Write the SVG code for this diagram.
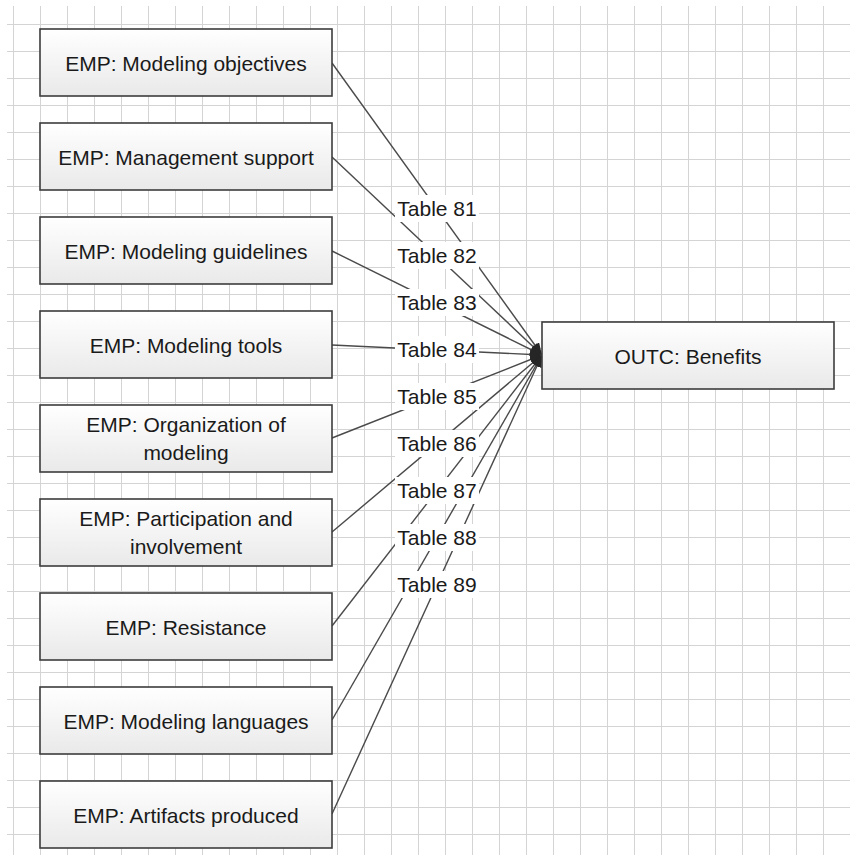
<svg xmlns="http://www.w3.org/2000/svg" width="850" height="855" viewBox="0 0 850 855">
  <defs>
    <linearGradient id="boxFill" x1="0" y1="0" x2="0" y2="1">
      <stop offset="0" stop-color="#ffffff"/>
      <stop offset="1" stop-color="#e9e9e9"/>
    </linearGradient>
    <pattern id="grid" x="13" y="24" width="27" height="27" patternUnits="userSpaceOnUse">
      <path d="M0 0V27M0 0H27" fill="none" stroke="#d4d4d4" stroke-width="2"/>
    </pattern>
    <marker id="arrow" viewBox="0 0 12 10" refX="12" refY="5" markerWidth="12" markerHeight="10" markerUnits="userSpaceOnUse" orient="auto">
      <path d="M0 0L12 5L0 10Z" fill="#262626"/>
    </marker>
    <clipPath id="gridArea">
      <rect x="7" y="6" width="843" height="849"/>
    </clipPath>
  </defs>
  <style>
    .box { fill: url(#boxFill); stroke: #3c3c3c; stroke-width: 1.6; }
    .txt { font-family: "Liberation Sans", Arial, sans-serif; font-size: 21px; fill: #1a1a1a; text-anchor: middle; dominant-baseline: central; }
    .edge { stroke: #4a4a4a; stroke-width: 1.4; fill: none; marker-end: url(#arrow); }
    .lblbg { fill: #ffffff; }
  </style>

  <!-- background grid -->
  <rect width="850" height="855" fill="#ffffff"/>
  <rect x="0" y="0" width="850" height="855" fill="url(#grid)" clip-path="url(#gridArea)"/>

  <!-- connectors with their labels -->
  <g id="connectors">
    <line class="edge" x1="332" y1="63" x2="542" y2="355"/>
    <line class="edge" x1="332" y1="157" x2="542" y2="355"/>
    <line class="edge" x1="332" y1="251" x2="542" y2="355"/>
    <line class="edge" x1="332" y1="345" x2="542" y2="355"/>
    <line class="edge" x1="332" y1="438" x2="542" y2="355"/>
    <line class="edge" x1="332" y1="532" x2="542" y2="355"/>
    <line class="edge" x1="332" y1="626" x2="542" y2="355"/>
    <line class="edge" x1="332" y1="720" x2="542" y2="355"/>
    <line class="edge" x1="332" y1="814" x2="542" y2="355"/>
    <g id="labels">
      <rect class="lblbg" x="395" y="195" width="84" height="27"/>
      <text class="txt" x="437" y="208">Table 81</text>
      <rect class="lblbg" x="395" y="242" width="84" height="27"/>
      <text class="txt" x="437" y="255">Table 82</text>
      <rect class="lblbg" x="395" y="289" width="84" height="27"/>
      <text class="txt" x="437" y="302">Table 83</text>
      <rect class="lblbg" x="395" y="336" width="84" height="27"/>
      <text class="txt" x="437" y="349">Table 84</text>
      <rect class="lblbg" x="395" y="383" width="84" height="27"/>
      <text class="txt" x="437" y="396">Table 85</text>
      <rect class="lblbg" x="395" y="430" width="84" height="27"/>
      <text class="txt" x="437" y="443">Table 86</text>
      <rect class="lblbg" x="395" y="477" width="84" height="27"/>
      <text class="txt" x="437" y="490">Table 87</text>
      <rect class="lblbg" x="395" y="524" width="84" height="27"/>
      <text class="txt" x="437" y="537">Table 88</text>
      <rect class="lblbg" x="395" y="571" width="84" height="27"/>
      <text class="txt" x="437" y="584">Table 89</text>
    </g>
  </g>

  <!-- nodes -->
  <g id="emp-objectives">
    <rect class="box" x="40" y="29" width="292" height="67"/>
    <text class="txt" x="186" y="63">EMP: Modeling objectives</text>
  </g>
  <g id="emp-management">
    <rect class="box" x="40" y="123" width="292" height="67"/>
    <text class="txt" x="186" y="157">EMP: Management support</text>
  </g>
  <g id="emp-guidelines">
    <rect class="box" x="40" y="217" width="292" height="67"/>
    <text class="txt" x="186" y="251">EMP: Modeling guidelines</text>
  </g>
  <g id="emp-tools">
    <rect class="box" x="40" y="311" width="292" height="67"/>
    <text class="txt" x="186" y="345">EMP: Modeling tools</text>
  </g>
  <g id="emp-organization">
    <rect class="box" x="40" y="405" width="292" height="67"/>
    <text class="txt" x="186" y="424">EMP: Organization of</text>
    <text class="txt" x="186" y="452">modeling</text>
  </g>
  <g id="emp-participation">
    <rect class="box" x="40" y="499" width="292" height="67"/>
    <text class="txt" x="186" y="518">EMP: Participation and</text>
    <text class="txt" x="186" y="546">involvement</text>
  </g>
  <g id="emp-resistance">
    <rect class="box" x="40" y="593" width="292" height="67"/>
    <text class="txt" x="186" y="627">EMP: Resistance</text>
  </g>
  <g id="emp-languages">
    <rect class="box" x="40" y="687" width="292" height="67"/>
    <text class="txt" x="186" y="721">EMP: Modeling languages</text>
  </g>
  <g id="emp-artifacts">
    <rect class="box" x="40" y="781" width="292" height="67"/>
    <text class="txt" x="186" y="815">EMP: Artifacts produced</text>
  </g>
  <g id="outc-benefits">
    <rect class="box" x="542" y="322" width="292" height="67"/>
    <text class="txt" x="688" y="356">OUTC: Benefits</text>
  </g>
</svg>
